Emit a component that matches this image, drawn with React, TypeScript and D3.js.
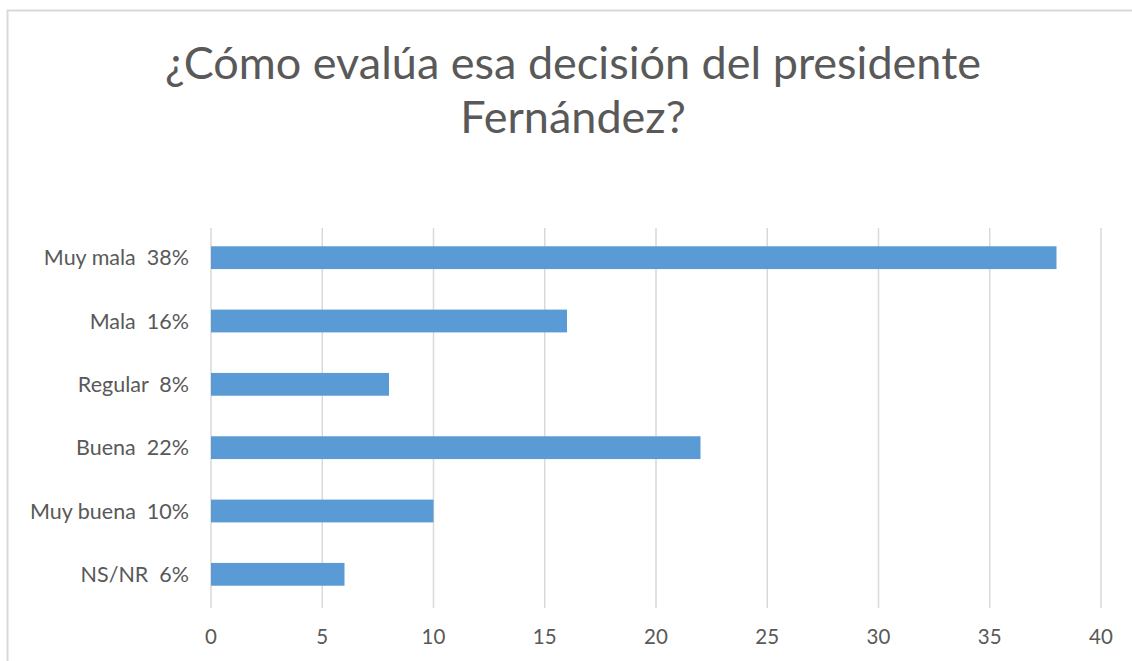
import React, { useEffect, useRef } from 'react';
import * as d3 from 'd3';

const categories = ['Muy mala  38%', 'Mala  16%', 'Regular  8%', 'Buena  22%', 'Muy buena  10%', 'NS/NR  6%'];
const values = [38, 16, 8, 22, 10, 6];
const xTicks = [0, 5, 10, 15, 20, 25, 30, 35, 40];
const titleLines = ['¿Cómo evalúa esa decisión del presidente', 'Fernández?'];

const W = 1132;
const H = 661;

export default function App() {
  const svgRef = useRef<SVGSVGElement>(null);

  useEffect(() => {
    const svg = d3.select(svgRef.current);
    svg.selectAll('*').remove();

    const font = 'Lato, sans-serif';
    const grey = '#595959';

    // chart frame (only top and left edge are in view)
    svg.append('rect')
      .attr('x', 7.5).attr('y', 10.5)
      .attr('width', W + 20).attr('height', H + 20)
      .attr('fill', 'white')
      .attr('stroke', '#d9d9d9')
      .attr('stroke-width', 2);

    svg.selectAll('.title')
      .data(titleLines)
      .enter().append('text')
      .attr('class', 'title')
      .attr('x', 573)
      .attr('y', (d, i) => 79 + i * 54)
      .attr('text-anchor', 'middle')
      .attr('font-family', font)
      .attr('font-size', 45)
      .attr('fill', grey)
      .text(d => d);

    const x = d3.scaleLinear().domain([0, 40]).range([211, 1101]);
    const y = d3.scaleBand<string>().domain(categories).range([226, 606]).paddingInner(0.64).paddingOuter(0.32);

    svg.selectAll('.grid')
      .data(xTicks)
      .enter().append('line')
      .attr('class', 'grid')
      .attr('x1', d => x(d)).attr('x2', d => x(d))
      .attr('y1', 228).attr('y2', 608)
      .attr('stroke', '#d9d9d9')
      .attr('stroke-width', 1.5);

    svg.selectAll('.bar')
      .data(values)
      .enter().append('rect')
      .attr('class', 'bar')
      .attr('x', x(0))
      .attr('y', (d, i) => y(categories[i])!)
      .attr('width', d => x(d) - x(0))
      .attr('height', y.bandwidth())
      .attr('fill', '#5b9bd5');

    svg.selectAll('.cat')
      .data(categories)
      .enter().append('text')
      .attr('class', 'cat')
      .attr('x', 189)
      .attr('y', d => y(d)! + y.bandwidth() / 2)
      .attr('dy', '0.35em')
      .attr('text-anchor', 'end')
      .attr('font-family', font)
      .attr('font-size', 21.5)
      .attr('fill', grey)
      .style('white-space', 'pre')
      .text(d => d);

    svg.selectAll('.tick')
      .data(xTicks)
      .enter().append('text')
      .attr('class', 'tick')
      .attr('x', d => x(d))
      .attr('y', 637)
      .attr('dy', '0.35em')
      .attr('text-anchor', 'middle')
      .attr('font-family', font)
      .attr('font-size', 20.5)
      .attr('fill', grey)
      .text(d => d);
  }, []);

  return (
    <svg ref={svgRef} width={W} height={H} style={{ position: 'absolute', left: 0, top: 0 }}></svg>
  );
}
